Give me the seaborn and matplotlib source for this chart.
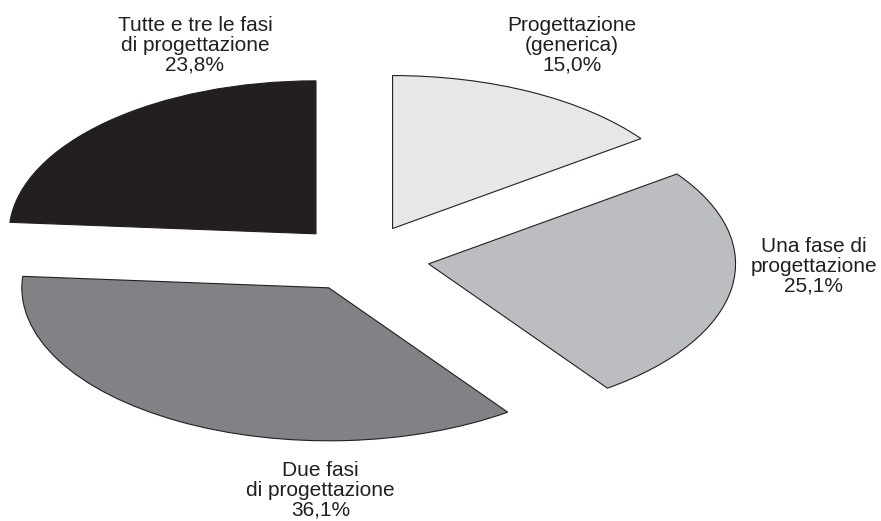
import matplotlib
matplotlib.use("Agg")
import matplotlib.pyplot as plt
import seaborn as sns

# dati
categorie = ["Progettazione\n(generica)", "Una fase di\nprogettazione",
             "Due fasi\ndi progettazione", "Tutte e tre le fasi\ndi progettazione"]
percentuali = [15.0, 25.1, 36.1, 23.8]

# stile
colori = sns.color_palette(["#e6e7e8", "#bcbdc0", "#808285", "#231f20"])
esplosione = [0.22, 0.22, 0.22, 0.22]
# posizione delle etichette (coordinate dei dati, angolo in alto)
pos_etichette = [(0.684, 1.585), (1.472, 0.141), (-0.134, -1.324), (-0.544, 1.585)]

sns.set_style("white")
plt.rcParams['font.family'] = ['Liberation Sans', 'DejaVu Sans']

fig = plt.figure(figsize=(8.81, 5.21), dpi=100)
ax = fig.add_axes([0, 0, 1, 1])

ax.pie(percentuali, colors=colori, explode=esplosione, startangle=90,
       counterclock=False,
       wedgeprops=dict(edgecolor="#231f20", linewidth=0.8))

# torta schiacciata (ellisse 2:1)
ax.set_aspect('auto')
ax.set_xlim(-1.179, 1.691)
ax.set_ylim(-1.716, 1.690)
ax.axis('off')

for nome, val, (x, y) in zip(categorie, percentuali, pos_etichette):
    testo = f"{nome}\n{val:.1f}".replace('.', ',') + "%"
    ax.text(x, y, testo, ha='center', va='top', multialignment='center',
            fontsize=15, color="#231f20", linespacing=1.05)

fig.savefig("out.png", dpi=100)
